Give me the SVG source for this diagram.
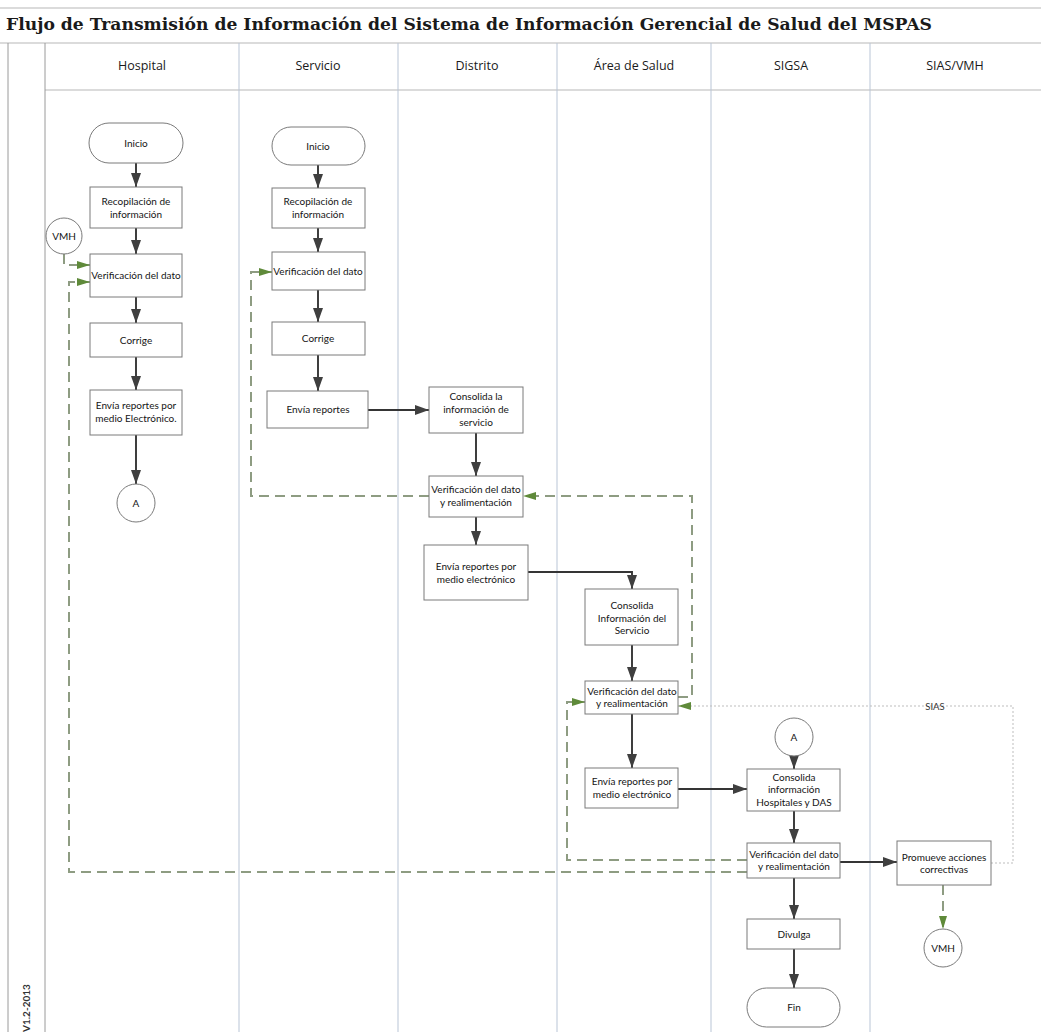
<svg xmlns="http://www.w3.org/2000/svg" width="1041" height="1032" viewBox="0 0 1041 1032">
<defs>
<style>
.lane{stroke:#b9c5d6;stroke-width:1;fill:none}
.hdr{stroke:#b8b8b8;stroke-width:1.2;fill:none}
.box{fill:#fff;stroke:#7a7a7a;stroke-width:1}
.t{font-family:Lato,"Open Sans",sans-serif;font-size:10px;fill:#151515;text-anchor:middle}
.h{font-family:"Open Sans",Lato,sans-serif;font-size:12.5px;fill:#1a1a1a;text-anchor:middle}
.flow{stroke:#353535;stroke-width:1.9;fill:none;marker-end:url(#ah)}
.fb{stroke:#8e9c82;stroke-width:2;stroke-dasharray:10 6;fill:none;marker-end:url(#gh)}
.dot{stroke:#bdbdbd;stroke-width:1;stroke-dasharray:2 2;fill:none;marker-end:url(#gh)}
</style>
<marker id="ah" viewBox="0 0 14 10" refX="14" refY="5" markerWidth="14" markerHeight="10" markerUnits="userSpaceOnUse" orient="auto">
<path d="M0,0 L14,5 L0,10 Z" fill="#3f3f3f"/>
</marker>
<marker id="gh" viewBox="0 0 13 8" refX="13" refY="4" markerWidth="13" markerHeight="8" markerUnits="userSpaceOnUse" orient="auto">
<path d="M0,0 L13,4 L0,8 Z" fill="#5f8a3a"/>
</marker>
</defs>
<rect x="0" y="0" width="1041" height="1032" fill="#fff"/>

<g id="frame">
<line class="hdr" x1="0" y1="8" x2="1041" y2="8"/>
<line class="hdr" x1="0" y1="43" x2="1041" y2="43"/>
<line class="hdr" x1="45" y1="90" x2="1041" y2="90"/>
<line x1="8" y1="43" x2="8" y2="1032" stroke="#9a9a9a" stroke-width="1"/>
<line x1="45" y1="43" x2="45" y2="1032" stroke="#9a9a9a" stroke-width="1"/>
<line class="lane" x1="239" y1="43" x2="239" y2="1032"/>
<line class="lane" x1="398" y1="43" x2="398" y2="1032"/>
<line class="lane" x1="557" y1="43" x2="557" y2="1032"/>
<line class="lane" x1="711" y1="43" x2="711" y2="1032"/>
<line class="lane" x1="870" y1="43" x2="870" y2="1032"/>
<text x="6" y="30" font-family="'DejaVu Serif','Liberation Serif',serif" font-weight="bold" font-size="17" fill="#1a1a1a" textLength="926" lengthAdjust="spacingAndGlyphs">Flujo de Transmisión de Información del Sistema de Información Gerencial de Salud del MSPAS</text>
<text class="h" x="142" y="70">Hospital</text>
<text class="h" x="318" y="70">Servicio</text>
<text class="h" x="477" y="70">Distrito</text>
<text class="h" x="634" y="70">Área de Salud</text>
<text class="h" x="791" y="70">SIGSA</text>
<text class="h" x="955" y="70">SIAS/VMH</text>
<text transform="translate(30,1032) rotate(-90)" x="0" y="0" font-family="Lato,'Open Sans',sans-serif" font-size="10" font-weight="bold" fill="#333">V1.2-2013</text>
</g>

<g id="connectors">
<line class="flow" x1="136" y1="163" x2="136" y2="187"/>
<line class="flow" x1="136" y1="228" x2="136" y2="254"/>
<line class="flow" x1="136" y1="297" x2="136" y2="323"/>
<line class="flow" x1="136" y1="357" x2="136" y2="390"/>
<line class="flow" x1="136" y1="435" x2="136" y2="484" stroke-width="1.3"/>
<line class="flow" x1="318" y1="165" x2="318" y2="188"/>
<line class="flow" x1="318" y1="228" x2="318" y2="252"/>
<line class="flow" x1="318" y1="290" x2="318" y2="322"/>
<line class="flow" x1="318" y1="355" x2="318" y2="391"/>
<line class="flow" x1="368" y1="410" x2="429" y2="410"/>
<line class="flow" x1="476" y1="433" x2="476" y2="476"/>
<line class="flow" x1="476" y1="517" x2="476" y2="545"/>
<path class="flow" d="M528,572 H632 V589"/>
<line class="flow" x1="632" y1="645" x2="632" y2="681"/>
<line class="flow" x1="632" y1="714" x2="632" y2="768"/>
<line class="flow" x1="678" y1="789" x2="747" y2="789"/>
<line class="flow" x1="794" y1="756" x2="794" y2="769"/>
<line class="flow" x1="794" y1="811" x2="794" y2="843"/>
<line class="flow" x1="794" y1="878" x2="794" y2="919"/>
<line class="flow" x1="794" y1="949" x2="794" y2="988"/>
<line class="flow" x1="840" y1="862" x2="897" y2="862"/>
<path class="fb" d="M64,254 V265 H90"/>
<path class="fb" d="M747,872 H69 V282 H90"/>
<path class="fb" d="M747,860 H567 V702 H585"/>
<path class="fb" d="M678,697 H692 V496 H523"/>
<path class="fb" d="M429,496 H251 V272 H272"/>
<path class="fb" d="M943,885 V929"/>
<path class="dot" d="M991,863 H1013 V706 H678"/>
<text x="935" y="710" font-family="Lato,'Open Sans',sans-serif" font-size="9.5" fill="#333" text-anchor="middle">SIAS</text>
</g>

<g id="h_inicio"><rect class="box" x="89" y="123" width="94" height="40" rx="20"/><text class="t" x="136" y="146.5">Inicio</text></g>
<g id="h_recop"><rect class="box" x="90" y="187" width="92" height="41"/><text class="t" x="136" y="204.5">Recopilación de</text><text class="t" x="136" y="217.5">información</text></g>
<g id="h_verif"><rect class="box" x="90" y="254" width="92" height="43"/><text class="t" x="136" y="279">Verificación del dato</text></g>
<g id="h_corrige"><rect class="box" x="90" y="323" width="92" height="34"/><text class="t" x="136" y="343.5">Corrige</text></g>
<g id="h_envia"><rect class="box" x="90" y="390" width="92" height="45"/><text class="t" x="136" y="409">Envía reportes por</text><text class="t" x="136" y="422">medio Electrónico.</text></g>
<g id="h_A"><circle class="box" cx="136" cy="503" r="19"/><text class="t" x="136" y="506.5" font-size="9">A</text></g>
<g id="h_vmh"><circle class="box" cx="64" cy="236" r="18"/><text class="t" x="64" y="239.5" font-size="9">VMH</text></g>

<g id="s_inicio"><rect class="box" x="272" y="127" width="93" height="38" rx="19"/><text class="t" x="318" y="149.5">Inicio</text></g>
<g id="s_recop"><rect class="box" x="272" y="188" width="93" height="40"/><text class="t" x="318" y="205">Recopilación de</text><text class="t" x="318" y="218">información</text></g>
<g id="s_verif"><rect class="box" x="272" y="252" width="93" height="38"/><text class="t" x="318" y="274.5">Verificación del dato</text></g>
<g id="s_corrige"><rect class="box" x="272" y="322" width="93" height="33"/><text class="t" x="318" y="342">Corrige</text></g>
<g id="s_envia"><rect class="box" x="267" y="391" width="101" height="37"/><text class="t" x="318" y="413">Envía reportes</text></g>

<g id="d_consol"><rect class="box" x="429" y="387" width="94" height="46"/><text class="t" x="476" y="400">Consolida la</text><text class="t" x="476" y="413">información de</text><text class="t" x="476" y="426">servicio</text></g>
<g id="d_verif"><rect class="box" x="429" y="476" width="94" height="41"/><text class="t" x="476" y="493">Verificación del dato</text><text class="t" x="476" y="506">y realimentación</text></g>
<g id="d_envia"><rect class="box" x="424" y="545" width="104" height="55"/><text class="t" x="476" y="569.5">Envía reportes por</text><text class="t" x="476" y="582.5">medio electrónico</text></g>

<g id="a_consol"><rect class="box" x="585" y="589" width="93" height="56"/><text class="t" x="632" y="609">Consolida</text><text class="t" x="632" y="621.5">Información del</text><text class="t" x="632" y="634">Servicio</text></g>
<g id="a_verif"><rect class="box" x="585" y="681" width="93" height="33"/><text class="t" x="632" y="694.5">Verificación del dato</text><text class="t" x="632" y="707">y realimentación</text></g>
<g id="a_envia"><rect class="box" x="585" y="768" width="93" height="40"/><text class="t" x="632" y="785">Envía reportes por</text><text class="t" x="632" y="798">medio electrónico</text></g>

<g id="g_A"><circle class="box" cx="794" cy="737" r="19"/><text class="t" x="794" y="740.5" font-size="9">A</text></g>
<g id="g_consol"><rect class="box" x="747" y="769" width="93" height="42"/><text class="t" x="794" y="780.5">Consolida</text><text class="t" x="794" y="793">información</text><text class="t" x="794" y="805.5">Hospitales y DAS</text></g>
<g id="g_verif"><rect class="box" x="747" y="843" width="93" height="35"/><text class="t" x="794" y="857.5">Verificación del dato</text><text class="t" x="794" y="870">y realimentación</text></g>
<g id="g_divulga"><rect class="box" x="747" y="919" width="93" height="30"/><text class="t" x="794" y="937.5">Divulga</text></g>
<g id="g_fin"><rect class="box" x="747" y="988" width="93" height="39" rx="19.5"/><text class="t" x="794" y="1010.5">Fin</text></g>

<g id="p_promueve"><rect class="box" x="897" y="841" width="94" height="44"/><text class="t" x="944" y="860.5">Promueve acciones</text><text class="t" x="944" y="872.5">correctivas</text></g>
<g id="v_vmh"><circle class="box" cx="943" cy="948" r="19"/><text class="t" x="943" y="951.5" font-size="9">VMH</text></g>
</svg>
